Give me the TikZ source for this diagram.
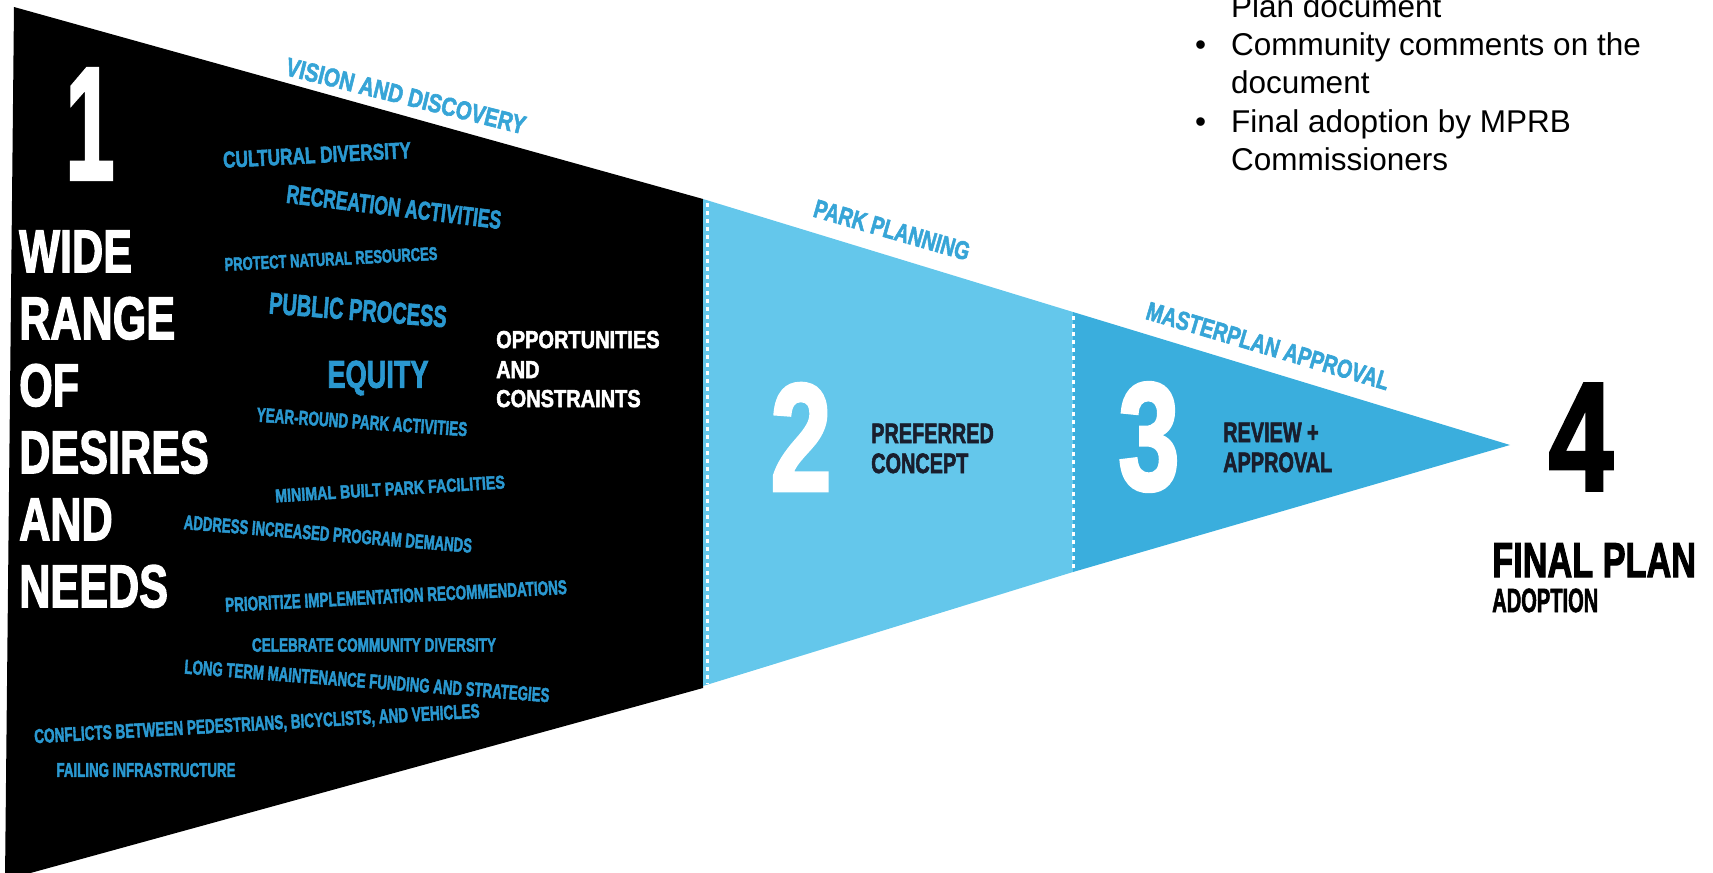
\documentclass[tikz,border=0pt]{standalone}
\usepackage{fontspec}
\setmainfont{Liberation Sans}
\newfontfamily\din{Liberation Sans}[BoldFeatures={FakeBold=2.5}]
\usepackage{graphicx}
\definecolor{lblue}{RGB}{100,199,235}
\definecolor{dblue}{RGB}{58,174,221}
\definecolor{tblue}{RGB}{42,152,208}
\definecolor{hblue}{RGB}{55,165,215}
\definecolor{navy}{RGB}{25,30,45}
\newcommand\fitT[3]{\resizebox{#1bp}{#2bp}{\din\bfseries #3}}
\newcommand\cnd[3]{\scalebox{#1}[1]{\fontsize{#2bp}{#2bp}\selectfont\din\bfseries #3}}
\tikzset{
  phr/.style={inner sep=0pt, text=tblue},
  hdr/.style={inner sep=0pt, text=hblue},
  big/.style={inner sep=0pt, anchor=base west, text=white},
  lbl/.style={inner sep=0pt, anchor=base west},
  dig/.style={inner sep=0pt, anchor=center},
  sep/.style={draw=white, line width=3bp, dash pattern=on 4bp off 4bp},
  bul/.style={inner sep=0pt, anchor=base west, font=\fontsize{31.5bp}{38bp}\selectfont}
}
\begin{document}
\begin{tikzpicture}[x=1bp,y=-1bp]
\useasboundingbox (0,0) rectangle (1713,872);
% shapes
\fill[black] (14,7) -- (703,199) -- (703,688) -- (5,880) -- cycle;
\fill[lblue] (703,199) -- (1073,312) -- (1073,572) -- (703,686) -- cycle;
\fill[dblue] (1073,312) -- (1510,445) -- (1073,572) -- cycle;
\coordinate (s1t) at (707,203);
\coordinate (s1b) at (707,684);
\coordinate (s2t) at (1073,316);
\coordinate (s2b) at (1073,568);
\draw[sep] (s1t) -- (s1b);
\draw[sep] (s2t) -- (s2b);
% headers
\node[hdr, rotate=-14] (h1) at (406,96) {\fitT{246}{18}{VISION AND DISCOVERY}};
\node[hdr, rotate=-16] (h2) at (892,230) {\fitT{161}{18}{PARK PLANNING}};
\node[hdr, rotate=-16.5] (h3) at (1268,346) {\fitT{252}{18}{MASTERPLAN APPROVAL}};
% blue phrases
\node[phr, rotate=3] (p1) at (317,155) {\fitT{188}{16}{CULTURAL DIVERSITY}};
\node[phr, rotate=-7] (p2) at (394,207) {\fitT{216}{18}{RECREATION ACTIVITIES}};
\node[phr, rotate=3] (p3) at (331,259) {\fitT{213}{13}{PROTECT NATURAL RESOURCES}};
\node[phr, rotate=-4.5] (p4) at (358,310) {\fitT{178}{21}{PUBLIC PROCESS}};
\node[phr] (p5) at (378,378) {\fitT{101}{27}{EQUITY}};
\node[phr, rotate=-4] (p6) at (362,422) {\fitT{211}{14}{YEAR-ROUND PARK ACTIVITIES}};
\node[phr, rotate=3.5] (p7) at (390,489) {\fitT{230}{13}{MINIMAL BUILT PARK FACILITIES}};
\node[phr, rotate=-4.7] (p8) at (328,534) {\fitT{289}{14}{ADDRESS INCREASED PROGRAM DEMANDS}};
\node[phr, rotate=3] (p9) at (396,596) {\fitT{342}{14}{PRIORITIZE IMPLEMENTATION RECOMMENDATIONS}};
\node[phr] (p10) at (374,645) {\fitT{244}{13.5}{CELEBRATE COMMUNITY DIVERSITY}};
\node[phr, rotate=-4.5] (p11) at (367,681) {\fitT{366}{14}{LONG TERM MAINTENANCE FUNDING AND STRATEGIES}};
\node[phr, rotate=3.3] (p12) at (257,725) {\fitT{446}{14}{CONFLICTS BETWEEN PEDESTRIANS, BICYCLISTS, AND VEHICLES}};
\node[phr] (p13) at (146,770) {\fitT{179}{14}{FAILING INFRASTRUCTURE}};
% big white text
\node[dig, text=white] (d1) at (90,124) {\cnd{0.55}{160}{1}};
\node[big] (w1) at (19,272) {\cnd{0.72}{60}{WIDE}};
\node[big] (w2) at (19,339) {\cnd{0.72}{60}{RANGE}};
\node[big] (w3) at (19,406) {\cnd{0.72}{60}{OF}};
\node[big] (w4) at (19,473) {\cnd{0.72}{60}{DESIRES}};
\node[big] (w5) at (19,540) {\cnd{0.72}{60}{AND}};
\node[big] (w6) at (19,607) {\cnd{0.72}{60}{NEEDS}};
\node[lbl, text=white] (o1) at (496,348) {\cnd{0.82}{24.4}{OPPORTUNITIES}};
\node[lbl, text=white] (o2) at (496,378) {\cnd{0.82}{24.4}{AND}};
\node[lbl, text=white] (o3) at (496,407) {\cnd{0.82}{24.4}{CONSTRAINTS}};
% stage 2 and 3
\node[dig, text=white] (d2) at (801,437) {\cnd{0.72}{153}{2}};
\node[lbl, text=navy] (c1) at (871,443) {\cnd{0.71}{28}{PREFERRED}};
\node[lbl, text=navy] (c2) at (871,473) {\cnd{0.71}{28}{CONCEPT}};
\node[dig, text=white] (d3) at (1149,437) {\cnd{0.72}{153}{3}};
\node[lbl, text=navy] (r1) at (1223,442) {\cnd{0.71}{28}{REVIEW +}};
\node[lbl, text=navy] (r2) at (1223,472) {\cnd{0.71}{28}{APPROVAL}};
% stage 4
\node[dig, text=black] (d4) at (1581,437) {\cnd{0.75}{154}{4}};
\node[lbl, text=black] (f1) at (1492,577) {\cnd{0.70}{49}{FINAL PLAN}};
\node[lbl, text=black] (f2) at (1492,612) {\cnd{0.60}{33.5}{ADOPTION}};
% bullet list
\node[bul] (t0) at (1231,17) {Plan document};
\node[bul] (b1) at (1195,55) {\textbullet};
\node[bul] (t1) at (1231,55) {Community comments on the};
\node[bul] (t2) at (1231,93) {document};
\node[bul] (b2) at (1195,132) {\textbullet};
\node[bul] (t3) at (1231,132) {Final adoption by MPRB};
\node[bul] (t4) at (1231,170) {Commissioners};
\end{tikzpicture}
\end{document}
